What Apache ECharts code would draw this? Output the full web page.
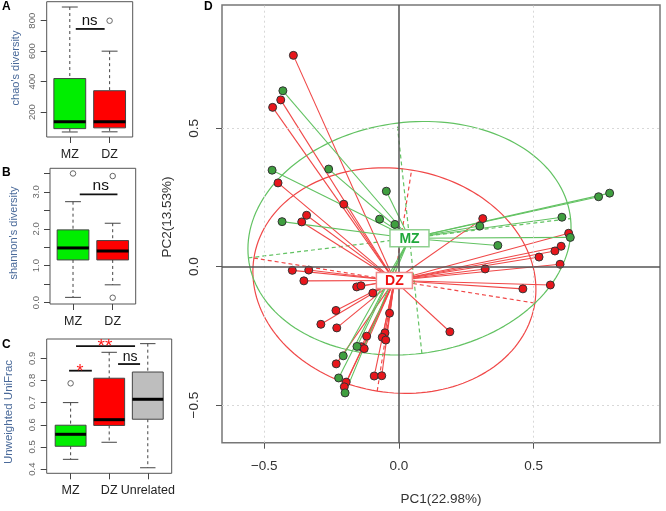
<!DOCTYPE html>
<html><head><meta charset="utf-8">
<script src="https://cdn.jsdelivr.net/npm/echarts@6/dist/echarts.min.js"></script>
<style>html,body{margin:0;padding:0;background:#fff}#c{width:666px;height:511px}</style>
</head><body><div id="c"></div><script>
// ---------- Data ----------
const groupsAB = ['MZ', 'DZ'];
const groupsC = ['MZ', 'DZ', 'Unrelated'];
// [lower whisker, Q1, median, Q3, upper whisker]
const chaoBox = [[69, 91, 137, 420, 890], [70, 96, 137, 340, 600]];
const chaoOutliers = [[2, 800]];
const shannonBox = [[0.14, 1.155, 1.48, 1.97, 2.735], [0.48, 1.155, 1.40, 1.68, 2.15]];
const shannonOutliers = [[1, 3.50], [2, 3.43], [2, 0.13]];
const unifracBox = [[0.444, 0.503, 0.557, 0.598, 0.70], [0.521, 0.597, 0.623, 0.81, 0.927], [0.406, 0.625, 0.715, 0.838, 0.966]];
const unifracOutliers = [[1, 0.787]];
const chaoTicks = [200, 400, 600, 800];
const shannonTicks = [0, 0.5, 1, 1.5, 2, 2.5, 3, 3.5];
const shannonLabels = [0, 1, 2, 3];
const unifracTicks = [0.4, 0.5, 0.6, 0.7, 0.8, 0.9];
const pcTicks = [-0.5, 0, 0.5];

const bracketsA = [{x: [1.15, 1.875], y: 746, label: 'ns', lx: 1.5, ly: 798, color: '#111', size: 15}];
const bracketsB = [{x: [1.17, 2.12], y: 2.935, label: 'ns', lx: 1.70, ly: 3.17, color: '#111', size: 15.5}];
const bracketsC = [
  {x: [0.96, 1.55], y: 0.844, label: '*', lx: 1.24, ly: 0.862, color: '#ff1a1a', size: 18},
  {x: [1.14, 2.67], y: 0.955, label: '**', lx: 1.89, ly: 0.975, color: '#ff1a1a', size: 19},
  {x: [2.23, 2.80], y: 0.874, label: 'ns', lx: 2.54, ly: 0.907, color: '#111', size: 14}
];

// PCoA coordinates
const mzPoints = [
  [-0.431, 0.636], [-0.471, 0.349], [-0.261, 0.353], [-0.047, 0.273], [-0.072, 0.172], [-0.015, 0.153],
  [-0.434, 0.163], [0.300, 0.147], [0.741, 0.253], [0.782, 0.266], [0.605, 0.179], [0.636, 0.106],
  [0.367, 0.077], [-0.156, -0.288], [-0.207, -0.322], [-0.224, -0.402], [-0.200, -0.456]
];
const dzPoints = [
  [-0.392, 0.764], [-0.439, 0.603], [-0.469, 0.576], [-0.449, 0.303], [-0.205, 0.226], [-0.343, 0.186],
  [-0.361, 0.162], [0.311, 0.174], [0.630, 0.121], [0.602, 0.074], [0.579, 0.057], [0.520, 0.035],
  [0.598, 0.009], [0.320, -0.008], [0.460, -0.080], [0.562, -0.066], [0.189, -0.235], [-0.396, -0.013],
  [-0.335, -0.012], [-0.353, -0.051], [-0.157, -0.073], [-0.141, -0.069], [-0.097, -0.095], [-0.234, -0.158],
  [-0.290, -0.208], [-0.231, -0.221], [-0.035, -0.168], [-0.120, -0.251], [-0.052, -0.239], [-0.062, -0.255],
  [-0.049, -0.265], [-0.140, -0.289], [-0.129, -0.296], [-0.233, -0.351], [-0.196, -0.417], [-0.203, -0.434],
  [-0.092, -0.395], [-0.064, -0.394]
];
const mzCentroid = [0.039, 0.103];
const dzCentroid = [-0.017, -0.050];
const mzEllipseAxes = [[0.598, 0.071], [-0.046, 0.416]];
const dzEllipseAxes = [[0.5215, -0.0813], [0.0638, 0.3995]];
const classLabels = ['MZ', 'DZ'];

// ---------- Styling ----------
const FONT = "'Liberation Sans', Arial, sans-serif";
const boxFill = ['#00ee00', '#ff0000', '#bebebe'];
const GREEN_LINE = '#62c262', RED_LINE = '#f04848';
const GREEN_PT = '#3f9f3f', RED_PT = '#e8161c';

function boxData(b) { return b.map((v, i) => [i + 1].concat(v)); }

function boxSeries(boxes, xi) {
  return {
    type: 'custom', xAxisIndex: xi, yAxisIndex: xi, z: 3, silent: true,
    data: boxData(boxes),
    encode: {x: 0, y: [1, 2, 3, 4, 5]},
    renderItem: function (params, api) {
      const x = api.value(0);
      const lo = api.coord([x, api.value(1)]), q1 = api.coord([x, api.value(2)]),
        md = api.coord([x, api.value(3)]), q3 = api.coord([x, api.value(4)]), hi = api.coord([x, api.value(5)]);
      const hw = api.size([0.4, 0])[0], cw = api.size([0.2, 0])[0];
      const cx = lo[0];
      const dash = {stroke: '#444', lineWidth: 1, lineDash: [3, 3]};
      const solid = {stroke: '#444', lineWidth: 1};
      return {type: 'group', children: [
        {type: 'line', shape: {x1: cx, y1: hi[1], x2: cx, y2: q3[1]}, style: dash},
        {type: 'line', shape: {x1: cx, y1: q1[1], x2: cx, y2: lo[1]}, style: dash},
        {type: 'line', shape: {x1: cx - cw, y1: hi[1], x2: cx + cw, y2: hi[1]}, style: solid},
        {type: 'line', shape: {x1: cx - cw, y1: lo[1], x2: cx + cw, y2: lo[1]}, style: solid},
        {type: 'rect', shape: {x: cx - hw, y: q3[1], width: 2 * hw, height: q1[1] - q3[1]},
          style: {fill: boxFill[params.dataIndex], stroke: '#444', lineWidth: 1}},
        {type: 'line', shape: {x1: cx - hw, y1: md[1], x2: cx + hw, y2: md[1]}, style: {stroke: '#000', lineWidth: 3}}
      ]};
    }
  };
}
function outlierSeries(pts, xi) {
  return {type: 'scatter', xAxisIndex: xi, yAxisIndex: xi, data: pts, symbol: 'circle', symbolSize: 5.5, z: 4, silent: true,
    itemStyle: {color: '#fff', borderColor: '#666', borderWidth: 1, opacity: 1}};
}
function bracketSeries(list, xi) {
  return {
    type: 'custom', xAxisIndex: xi, yAxisIndex: xi, z: 5, silent: true,
    data: list.map(b => [b.x[0], b.x[1], b.y, b.lx, b.ly]),
    encode: {x: [0, 1, 3], y: [2, 4]},
    renderItem: function (params, api) {
      const b = list[params.dataIndex];
      const p1 = api.coord([b.x[0], b.y]), p2 = api.coord([b.x[1], b.y]);
      const t = api.coord([b.lx, b.ly]);
      const star = b.label.indexOf('*') >= 0;
      return {type: 'group', children: [
        {type: 'line', shape: {x1: p1[0], y1: p1[1], x2: p2[0], y2: p2[1]}, style: {stroke: '#111', lineWidth: 1.8}},
        {type: 'text', x: t[0], y: t[1] + (star ? 5 : 0), style: {text: b.label, fill: b.color, fontSize: b.size,
          fontFamily: FONT, align: 'center', verticalAlign: 'middle'}}
      ]};
    }
  };
}
function catX(idx, names, min, max) {
  return {type: 'value', gridIndex: idx, min: min, max: max,
    axisLine: {show: false, onZero: false}, splitLine: {show: false},
    axisTick: {show: true, customValues: names.map((_, i) => i + 1), length: 6, lineStyle: {color: '#444'}},
    axisLabel: {customValues: names.map((_, i) => i + 1), formatter: v => names[Math.round(v) - 1], margin: 11,
      fontSize: 12.5, color: '#222', fontFamily: FONT}};
}
function valY(idx, min, max, ticks, labels, fmt) {
  return {type: 'value', gridIndex: idx, min: min, max: max,
    axisLine: {show: false, onZero: false}, splitLine: {show: false},
    axisTick: {show: true, customValues: ticks, length: 6, lineStyle: {color: '#444'}},
    axisLabel: {customValues: labels, formatter: fmt, rotate: 90, margin: 9, fontSize: 9.5, color: '#666', fontFamily: FONT}};
}
function ellipse(c, a1, a2) {
  const pts = [];
  for (let k = 0; k <= 160; k++) {
    const t = 2 * Math.PI * k / 160;
    pts.push([c[0] + Math.cos(t) * a1[0] + Math.sin(t) * a2[0], c[1] + Math.cos(t) * a1[1] + Math.sin(t) * a2[1]]);
  }
  return pts;
}
function axesSegs(c, a1, a2) {
  return [a1, a2].map(a => ({coords: [[c[0] - a[0], c[1] - a[1]], [c[0] + a[0], c[1] + a[1]]]}));
}
function segs(pts, c) { return pts.map(p => ({coords: [p, c]})); }
const pcFmt = v => (v < 0 ? '\u2212' : '') + Math.abs(v).toFixed(1);

const frame = {show: true, borderColor: '#555', borderWidth: 1, backgroundColor: 'transparent'};
const labelStyles = [
  {text: '#1fa83a', border: '#8fd08f', w: 39, h: 17},
  {text: '#ee1111', border: '#f08a8a', w: 36, h: 16}
];

const option = {
  animation: false,
  backgroundColor: '#fff',
  grid: [
    Object.assign({left: 46.7, top: 1.7, width: 86, height: 135.3}, frame),
    Object.assign({left: 50, top: 168.3, width: 85.7, height: 135.7}, frame),
    Object.assign({left: 46.7, top: 339, width: 125, height: 134.3}, frame),
    {left: 222, top: 5, width: 438, height: 437.7, show: true, borderColor: '#777', borderWidth: 1.5, backgroundColor: 'transparent'}
  ],
  xAxis: [
    catX(0, groupsAB, 0.42, 2.58),
    catX(1, groupsAB, 0.42, 2.58),
    catX(2, groupsC, 0.38, 3.62),
    {type: 'value', gridIndex: 3, min: -0.657, max: 0.969,
      axisLine: {show: false, onZero: false}, splitLine: {show: false},
      axisTick: {show: true, customValues: pcTicks, length: 6, lineStyle: {color: '#555'}},
      axisLabel: {customValues: pcTicks, formatter: pcFmt, margin: 17, fontSize: 13.5, color: '#333', fontFamily: FONT}}
  ],
  yAxis: [
    valY(0, 36, 925, chaoTicks, chaoTicks, v => String(Math.round(v))),
    valY(1, -0.04, 3.64, shannonTicks, shannonLabels, v => v.toFixed(1)),
    valY(2, 0.381, 0.987, unifracTicks, unifracTicks, v => v.toFixed(1)),
    {type: 'value', gridIndex: 3, min: -0.636, max: 0.946,
      axisLine: {show: false, onZero: false}, splitLine: {show: false},
      axisTick: {show: true, customValues: pcTicks, length: 6, lineStyle: {color: '#555'}},
      axisLabel: {customValues: pcTicks, formatter: pcFmt, rotate: 90, margin: 21, fontSize: 13.5, color: '#333', fontFamily: FONT}}
  ],
  series: [
    boxSeries(chaoBox, 0), outlierSeries(chaoOutliers, 0), bracketSeries(bracketsA, 0),
    boxSeries(shannonBox, 1), outlierSeries(shannonOutliers, 1), bracketSeries(bracketsB, 1),
    boxSeries(unifracBox, 2), outlierSeries(unifracOutliers, 2), bracketSeries(bracketsC, 2),
    // ellipses
    {type: 'line', xAxisIndex: 3, yAxisIndex: 3, data: ellipse(dzCentroid, dzEllipseAxes[0], dzEllipseAxes[1]),
      showSymbol: false, silent: true, z: 1, lineStyle: {color: RED_LINE, width: 1.2},
      markLine: {silent: true, symbol: 'none', label: {show: false},
        data: [{xAxis: -0.5}, {xAxis: 0.5}, {yAxis: 0.5}, {yAxis: -0.5}],
        lineStyle: {color: '#d8d8d8', type: [2, 3], width: 1}}},
    {type: 'line', xAxisIndex: 3, yAxisIndex: 3, data: ellipse(mzCentroid, mzEllipseAxes[0], mzEllipseAxes[1]),
      showSymbol: false, silent: true, z: 1, lineStyle: {color: GREEN_LINE, width: 1.2},
      markLine: {silent: true, symbol: 'none', label: {show: false},
        data: [{xAxis: 0}, {yAxis: 0}],
        lineStyle: {color: '#555', type: 'solid', width: 1.5}}},
    {type: 'lines', coordinateSystem: 'cartesian2d', xAxisIndex: 3, yAxisIndex: 3, z: 1, silent: true,
      data: axesSegs(dzCentroid, dzEllipseAxes[0], dzEllipseAxes[1]), lineStyle: {color: RED_LINE, width: 1.2, type: [4, 3], opacity: 1}},
    {type: 'lines', coordinateSystem: 'cartesian2d', xAxisIndex: 3, yAxisIndex: 3, z: 1, silent: true,
      data: axesSegs(mzCentroid, mzEllipseAxes[0], mzEllipseAxes[1]), lineStyle: {color: GREEN_LINE, width: 1.2, type: [4, 3], opacity: 1}},
    // spokes
    {type: 'lines', coordinateSystem: 'cartesian2d', xAxisIndex: 3, yAxisIndex: 3, z: 2, silent: true,
      data: segs(dzPoints, dzCentroid), lineStyle: {color: RED_LINE, width: 1.1, opacity: 1}},
    {type: 'lines', coordinateSystem: 'cartesian2d', xAxisIndex: 3, yAxisIndex: 3, z: 2, silent: true,
      data: segs(mzPoints, mzCentroid), lineStyle: {color: GREEN_LINE, width: 1.1, opacity: 1}},
    // points
    {type: 'scatter', xAxisIndex: 3, yAxisIndex: 3, z: 3, silent: true, data: dzPoints, symbolSize: 8,
      itemStyle: {color: RED_PT, borderColor: '#333', borderWidth: 1, opacity: 1}},
    {type: 'scatter', xAxisIndex: 3, yAxisIndex: 3, z: 3, silent: true, data: mzPoints, symbolSize: 8,
      itemStyle: {color: GREEN_PT, borderColor: '#333', borderWidth: 1, opacity: 1}},
    // centroid labels
    {type: 'custom', xAxisIndex: 3, yAxisIndex: 3, z: 6, silent: true, data: [mzCentroid, dzCentroid],
      encode: {x: 0, y: 1},
      renderItem: function (params, api) {
        const p = api.coord([api.value(0), api.value(1)]);
        const s = labelStyles[params.dataIndex];
        return {type: 'group', children: [
          {type: 'rect', shape: {x: p[0] - s.w / 2, y: p[1] - s.h / 2, width: s.w, height: s.h},
            style: {fill: '#fff', stroke: s.border, lineWidth: 1.5}},
          {type: 'text', x: p[0], y: p[1] + 0.5, style: {text: classLabels[params.dataIndex], fill: s.text, fontSize: 14,
            fontWeight: 'bold', fontFamily: FONT, align: 'center', verticalAlign: 'middle'}}
        ]};
      }}
  ],
  graphic: [
    {type: 'text', x: 2, y: 1, style: {text: 'A', fontSize: 12, fontWeight: 'bold', fontFamily: FONT, fill: '#000'}},
    {type: 'text', x: 2, y: 167, style: {text: 'B', fontSize: 12, fontWeight: 'bold', fontFamily: FONT, fill: '#000'}},
    {type: 'text', x: 2, y: 339, style: {text: 'C', fontSize: 12, fontWeight: 'bold', fontFamily: FONT, fill: '#000'}},
    {type: 'text', x: 204, y: 1, style: {text: 'D', fontSize: 12, fontWeight: 'bold', fontFamily: FONT, fill: '#000'}},
    {type: 'text', x: 15.5, y: 68, rotation: Math.PI / 2, style: {text: "chao's diversity", fontSize: 11, fontFamily: FONT, fill: '#4a6a9a', align: 'center', verticalAlign: 'middle'}},
    {type: 'text', x: 14, y: 233, rotation: Math.PI / 2, style: {text: "shannon's diversity", fontSize: 11, fontFamily: FONT, fill: '#4a6a9a', align: 'center', verticalAlign: 'middle'}},
    {type: 'text', x: 9, y: 412, rotation: Math.PI / 2, style: {text: 'Unweighted UniFrac', fontSize: 11.5, fontFamily: FONT, fill: '#4a6a9a', align: 'center', verticalAlign: 'middle'}},
    {type: 'text', x: 167, y: 217, rotation: Math.PI / 2, style: {text: 'PC2(13.53%)', fontSize: 13.5, fontFamily: FONT, fill: '#333', align: 'center', verticalAlign: 'middle'}},
    {type: 'text', x: 441, y: 499, style: {text: 'PC1(22.98%)', fontSize: 13.5, fontFamily: FONT, fill: '#333', align: 'center', verticalAlign: 'middle'}}
  ]
};
const chart = echarts.init(document.getElementById('c'), null, {renderer: 'canvas'});
chart.setOption(option);
</script></body></html>
